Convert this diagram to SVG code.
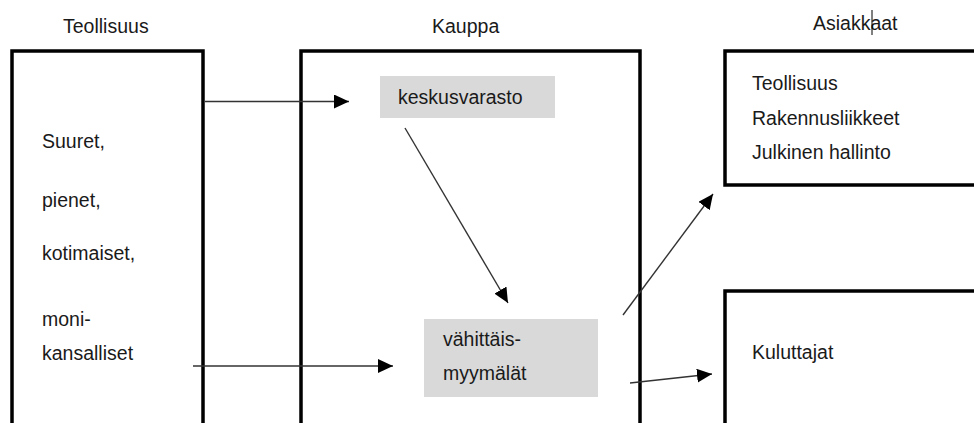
<svg xmlns="http://www.w3.org/2000/svg" width="974" height="423" viewBox="0 0 974 423">
  <style>
    .frame { fill: #ffffff; stroke: #000000; stroke-width: 3.5; }
    .store { fill: #d9d9d9; stroke: none; }
    .label { font-family: "Liberation Sans", Arial, sans-serif; font-size: 19.5px; fill: #1a1a1a; }
    .flow { stroke: #333333; stroke-width: 1.4; fill: none; marker-end: url(#head); }
  </style>
  <defs>
    <marker id="head" markerUnits="userSpaceOnUse" markerWidth="16" markerHeight="14" refX="15" refY="7" orient="auto">
      <path d="M0,0 L15,7 L0,14 Z" fill="#000000"/>
    </marker>
  </defs>

  <rect width="974" height="423" fill="#ffffff"/>

  <!-- column headings -->
  <g id="headings">
    <text class="label" x="63" y="33">Teollisuus</text>
    <text class="label" x="432" y="33">Kauppa</text>
    <text class="label" x="813" y="30">Asiakkaat</text>
    <line x1="872" y1="10" x2="872" y2="35" stroke="#000000" stroke-width="1"/>
  </g>

  <!-- producers -->
  <g id="teollisuus">
    <rect class="frame" x="12" y="51" width="191" height="400"/>
    <text class="label" x="42" y="148">Suuret,</text>
    <text class="label" x="42" y="207">pienet,</text>
    <text class="label" x="42" y="260">kotimaiset,</text>
    <text class="label" x="42" y="326">moni-</text>
    <text class="label" x="42" y="360">kansalliset</text>
  </g>

  <!-- trade -->
  <g id="kauppa">
    <rect class="frame" x="301" y="51" width="339" height="400"/>
  </g>

  <g id="keskusvarasto">
    <rect class="store" x="380" y="76" width="175" height="42"/>
    <text class="label" x="398" y="104">keskusvarasto</text>
  </g>

  <g id="vahittaismyymalat">
    <rect class="store" x="424" y="319" width="174" height="78"/>
    <text class="label" x="443" y="346">vähittäis-</text>
    <text class="label" x="443" y="380">myymälät</text>
  </g>

  <!-- customers -->
  <g id="organisaatiot">
    <rect class="frame" x="725" y="51" width="270" height="134"/>
    <text class="label" x="752" y="90">Teollisuus</text>
    <text class="label" x="752" y="125">Rakennusliikkeet</text>
    <text class="label" x="752" y="159">Julkinen hallinto</text>
  </g>

  <g id="kuluttajat">
    <rect class="frame" x="725" y="291" width="270" height="160"/>
    <text class="label" x="752" y="359">Kuluttajat</text>
  </g>

  <!-- flows -->
  <g id="connectors">
    <line class="flow" x1="205" y1="101.5" x2="349" y2="101.5"/>
    <line class="flow" x1="193" y1="366" x2="393" y2="366"/>
    <line class="flow" x1="405" y1="128" x2="508" y2="303"/>
    <line class="flow" x1="623" y1="315" x2="713" y2="194"/>
    <line class="flow" x1="630" y1="383" x2="712" y2="374"/>
  </g>
</svg>
